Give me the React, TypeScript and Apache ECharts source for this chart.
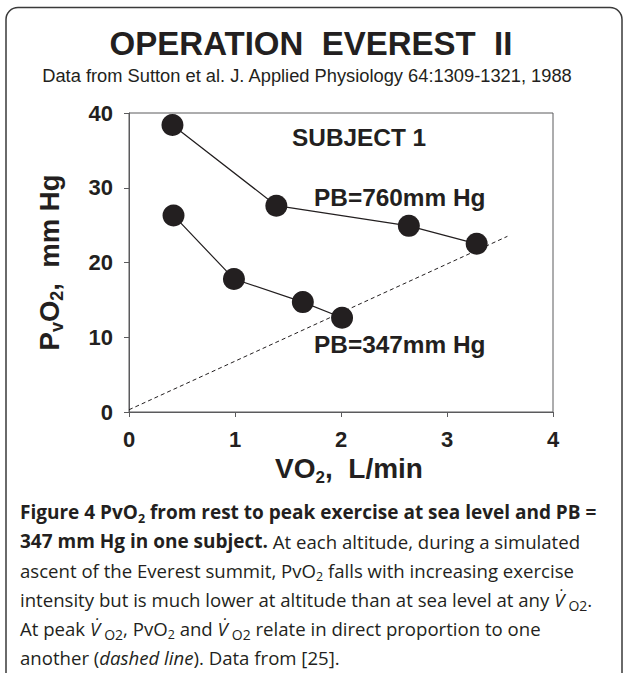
import React, { useEffect, useRef } from 'react';
import * as echarts from 'echarts';

// ---- data ----
const vo2SeaLevel = [0.41, 1.39, 2.64, 3.28];
const pvo2SeaLevel = [38.4, 27.6, 24.9, 22.5];
const vo2Altitude = [0.42, 0.99, 1.64, 2.01];
const pvo2Altitude = [26.3, 17.8, 14.7, 12.6];
const proportionVo2 = [0, 3.57];
const proportionPvo2 = [0.3, 23.5];

const titleText = 'OPERATION  EVEREST  II';
const subtitleText = 'Data from Sutton et al. J. Applied Physiology 64:1309-1321, 1988';
const subjectLabel = 'SUBJECT 1';
const seaLevelLabel = 'PB=760mm Hg';
const altitudeLabel = 'PB=347mm Hg';

const captionLines = [
  '{b|Figure 4 PvO}{bs|2}{b| from rest to peak exercise at sea level and PB =}',
  '{b|347 mm Hg in one subject.}{r| At each altitude, during a simulated}',
  '{r|ascent of the Everest summit, PvO}{s|2}{r| falls with increasing exercise}',
  '{r|intensity but is much lower at altitude than at sea level at any }{iv|V\u0307}{vs|O2}{r|.}',
  '{r|At peak }{iv|V\u0307}{vs|O2}{r|, PvO}{s|2}{r| and }{iv|V\u0307}{vs|O2}{r| relate in direct proportion to one}',
  '{r|another (}{i|dashed line}{r|). Data from [25].}',
];

const INK = '#231f20';
const AXIS = '#5b5b5d';
const SANS = '"Liberation Sans", Arial, Helvetica, sans-serif';
const CAP = '"Open Sans", "Noto Sans", sans-serif';

export default function App() {
  const ref = useRef<HTMLDivElement>(null);
  useEffect(() => {
    if (!ref.current) return;
    const chart = echarts.init(ref.current, null, { renderer: 'svg' });
    const bSize = 19;
    const rSize = 18.6;
    const capRich = {
      b: { fontFamily: CAP, fontSize: bSize, fontWeight: 'bold', color: INK, lineHeight: 22 },
      bs: { fontFamily: CAP, fontSize: 12.5, fontWeight: 'bold', color: INK, lineHeight: 12, padding: [13, 0, 0, 0] },
      r: { fontFamily: CAP, fontSize: rSize, color: INK, lineHeight: 22 },
      s: { fontFamily: CAP, fontSize: 12.5, color: INK, lineHeight: 12, padding: [13, 0, 0, 0] },
      vs: { fontFamily: CAP, fontSize: 14, color: INK, lineHeight: 12, padding: [12, 0, 0, 4] },
      i: { fontFamily: CAP, fontSize: rSize, fontStyle: 'italic', color: INK, lineHeight: 22 },
      iv: { fontFamily: CAP, fontSize: rSize, fontStyle: 'italic', color: INK, lineHeight: 22 },
    };
    const captionY = [512, 541, 570, 599, 628, 657];
    const option: any = {
      animation: false,
      backgroundColor: '#ffffff',
      grid: {
        left: 129, right: 71, top: 113, bottom: 261,
        show: true, borderColor: AXIS, borderWidth: 1, backgroundColor: 'transparent',
      },
      xAxis: {
        type: 'value', min: 0, max: 4, interval: 1,
        axisLine: { lineStyle: { color: AXIS, width: 1 } },
        axisTick: { show: true, length: 5, lineStyle: { color: AXIS } },
        splitLine: { show: false },
        axisLabel: { margin: 16, fontSize: 22, fontWeight: 'bold', color: INK, fontFamily: SANS },
        name: '{a|VO}{s|2}{a|,  L/min}',
        nameLocation: 'middle',
        nameGap: 40,
        nameTextStyle: {
          padding: [0, 0, 0, 16],
          rich: {
            a: { fontSize: 28, fontWeight: 'bold', color: INK, fontFamily: SANS, lineHeight: 28 },
            s: { fontSize: 17, fontWeight: 'bold', color: INK, fontFamily: SANS, lineHeight: 17, padding: [18, 0, 0, 0] },
          },
        },
      },
      yAxis: {
        type: 'value', min: 0, max: 40, interval: 10,
        axisLine: { show: true, lineStyle: { color: AXIS, width: 1 } },
        axisTick: { show: true, length: 5, lineStyle: { color: AXIS } },
        splitLine: { show: false },
        axisLabel: { margin: 16, fontSize: 22, fontWeight: 'bold', color: INK, fontFamily: SANS },
        name: '{a|P}{s|v}{a|O}{s|2}{a|,  mm Hg}',
        nameLocation: 'middle',
        nameRotate: 90,
        nameGap: 66,
        nameTextStyle: {
          rich: {
            a: { fontSize: 27.5, fontWeight: 'bold', color: INK, fontFamily: SANS, lineHeight: 28 },
            s: { fontSize: 18, fontWeight: 'bold', color: INK, fontFamily: SANS, lineHeight: 17, padding: [16, 0, 0, 0] },
          },
        },
      },
      series: [
        {
          name: 'proportion', type: 'line', data: proportionVo2.map((x, i) => [x, proportionPvo2[i]]),
          symbol: 'none', lineStyle: { color: INK, width: 1, type: [4, 3] }, z: 1, silent: true,
        },
        {
          name: 'PB=760', type: 'line', data: vo2SeaLevel.map((x, i) => [x, pvo2SeaLevel[i]]),
          symbol: 'circle', symbolSize: 22, itemStyle: { color: INK },
          lineStyle: { color: INK, width: 1.2 }, z: 3,
        },
        {
          name: 'PB=347', type: 'line', data: vo2Altitude.map((x, i) => [x, pvo2Altitude[i]]),
          symbol: 'circle', symbolSize: 22, itemStyle: { color: INK },
          lineStyle: { color: INK, width: 1.2 }, z: 3,
        },
      ],
      graphic: [
        {
          type: 'rect', shape: { x: 6, y: 7.5, width: 616, height: 720, r: 12 },
          style: { fill: 'none', stroke: '#3a3a3a', lineWidth: 1.5 }, silent: true, z: -1,
        },
        {
          type: 'text', x: 311, y: 43,
          style: { text: titleText, font: `bold 33px ${SANS}`, fill: INK, textAlign: 'center', textVerticalAlign: 'middle' },
        },
        {
          type: 'text', x: 307, y: 75,
          style: { text: subtitleText, font: `18.3px ${SANS}`, fill: INK, textAlign: 'center', textVerticalAlign: 'middle' },
        },
        {
          type: 'text', x: 292, y: 137,
          style: { text: subjectLabel, font: `bold 24.4px ${SANS}`, fill: INK, textAlign: 'left', textVerticalAlign: 'middle' },
        },
        {
          type: 'text', x: 314, y: 197,
          style: { text: seaLevelLabel, font: `bold 24.4px ${SANS}`, fill: INK, textAlign: 'left', textVerticalAlign: 'middle' },
        },
        {
          type: 'text', x: 314, y: 344,
          style: { text: altitudeLabel, font: `bold 24.4px ${SANS}`, fill: INK, textAlign: 'left', textVerticalAlign: 'middle' },
        },
        ...captionLines.map((t, i) => ({
          type: 'text', x: 20, y: captionY[i],
          style: { text: t, rich: capRich, fill: INK, textAlign: 'left', textVerticalAlign: 'middle' },
        })),
      ],
    };
    chart.setOption(option);
    return () => chart.dispose();
  }, []);
  return (
    <div
      ref={ref}
      style={{ position: 'absolute', left: 0, top: 0, width: 624, height: 673 }}
    />
  );
}
